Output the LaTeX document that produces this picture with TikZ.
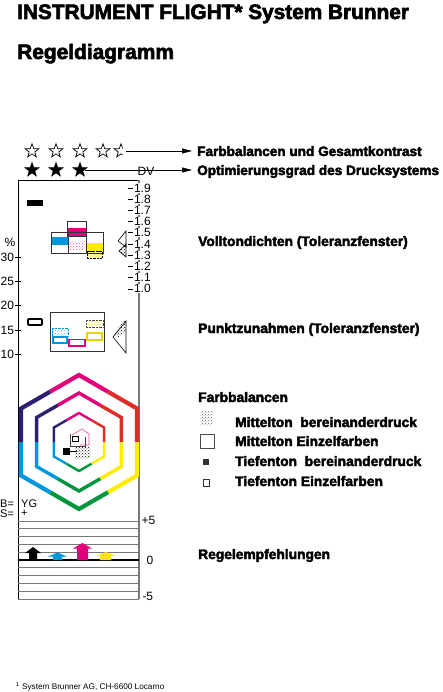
\documentclass[tikz,border=0pt]{standalone}
\usepackage{fontspec}
\setmainfont{Liberation Sans}
\newfontfamily\heavy{Liberation Sans Bold}[FakeBold=3]
\usetikzlibrary{arrows.meta,shapes.geometric,patterns,calc}
\definecolor{bmagenta}{RGB}{226,0,122}
\definecolor{bcyan}{RGB}{0,150,220}
\definecolor{byellow}{RGB}{255,236,0}
\definecolor{bred}{RGB}{222,45,38}
\definecolor{bgreen}{RGB}{0,150,64}
\definecolor{bviolet}{RGB}{48,30,112}
\definecolor{rastergray}{RGB}{120,120,120}

\begin{document}
\begin{tikzpicture}[x=1pt,y=-1pt,
    stern/.style={star,star points=5,star point ratio=2.5,minimum size=14.5pt,inner sep=0pt,line width=0.7pt},
    head/.style={font=\heavy\fontsize{13.6}{15}\selectfont,anchor=west,inner sep=0pt,text height=10pt,text depth=0pt},
    legende/.style={font=\heavy\fontsize{13.8}{15}\selectfont,anchor=base west,inner sep=0pt},
    zahl/.style={font=\fontsize{12}{13}\selectfont,inner sep=0.3pt},
    klein/.style={font=\fontsize{11}{11}\selectfont,inner sep=0pt,anchor=base west},
    pfeil/.style={-{Triangle[length=10pt,width=5pt]},line width=0.6pt,shorten >=5pt}]
    \useasboundingbox (0,0) rectangle (442,692);

    \node[legende,font=\heavy\fontsize{20.8}{22}\selectfont] (titel) at (17,19) {INSTRUMENT FLIGHT* System Brunner};
    \node[legende,font=\heavy\fontsize{20.9}{22}\selectfont] (untertitel) at (17,59) {Regeldiagramm};

    % Sterne
    \foreach \x [count=\i] in {32,56,80,103} \node[stern,draw] (s\i) at (\x,151) {};
    \begin{scope}
        \clip (110,140) rectangle (122.5,162);
        \node[stern,draw] (s5) at (121,151) {};
    \end{scope}
    \foreach \x [count=\i] in {32,56,80} \node[stern,draw,fill] (f\i) at (\x,170) {};
    \node[head] (farb) at (197,151) {Farbbalancen und Gesamtkontrast};
    \node[head] (opt) at (197,170) {Optimierungsgrad des Drucksystems};
    \draw[pfeil] (s5.east) -- (farb.west);
    \draw[pfeil] (f3.east) -- (opt.west);
    \node[zahl] (dv) at (146,171) {DV};

    % Rahmen
    \draw[line width=0.7pt] (18,599) -- (18,180) -- (139,180);
    \draw[rastergray,line width=1.2pt] (139,180) -- (139,599);

    % Skalen
    \foreach \v [count=\i from 0] in {1.9,1.8,1.7,1.6,1.5,1.4,1.3,1.2,1.1,1.0} {
        \draw[line width=0.6pt] (128,188+11.2*\i) -- (133,188+11.2*\i);
        \node[zahl,anchor=west,fill=white] (dv\i) at (133.5,188+11.2*\i) {\v};
    }
    \node[zahl] (prozent) at (10,242) {\%};
    \foreach \p/\y in {30/257,25/281.3,20/305.5,15/330,10/354.3} {
        \draw[line width=0.6pt] (15,\y) -- (21,\y);
        \node[zahl,anchor=east] (p\p) at (14.5,\y) {\p};
    }

    % Volltondichten
    \fill (27,200) rectangle (43,206);
    \fill[bcyan] (51,237) rectangle (68,245);
    \fill[bmagenta] (68,228) rectangle (86,236);
    \fill[pattern=crosshatch dots,pattern color=bmagenta!70] (69,242) rectangle (85,250);
    \fill[byellow] (86,243) rectangle (103,251);
    \draw[densely dotted,fill=byellow!40] (87,251) rectangle (102,258);
    \draw[dashed,line width=0.8pt] (86,251) -- (103,251);
    \draw[line width=0.8pt,black!80] (51,232) rectangle (103,253);
    \draw[line width=0.8pt,black!80] (68,232) -- (68,253) (86,232) -- (86,253);
    \draw[line width=0.8pt,black!80] (67,221) rectangle (86,236);
    \draw[line width=0.6pt] (126,231) -- (118,241) -- (126,247) -- cycle;
    \draw[line width=0.6pt,pattern=crosshatch dots] (126,244) -- (119,251) -- (126,257) -- cycle;

    % Punktzunahmen
    \draw[line width=1.8pt,rounded corners=1pt] (28,319) rectangle (42,325);
    \draw[line width=0.8pt,black!80] (50,312) rectangle (104,351);
    \draw[bcyan,densely dotted,pattern=crosshatch dots,pattern color=bcyan!60] (52,328) rectangle (68,336);
    \draw[bcyan,line width=1.5pt] (53,337) rectangle (67,343);
    \draw[bmagenta,line width=1.5pt] (69,339.5) rectangle (85,346);
    \draw[black!70,densely dotted,pattern=crosshatch dots,pattern color=byellow] (86,320) rectangle (103,327);
    \draw[byellow!90!black,line width=1.5pt] (87,333) rectangle (102,340);
    \fill[pattern=crosshatch dots] (125,320) -- (114,333) -- (118,339) -- (126,329) -- cycle;
    \draw[line width=0.6pt] (126,321) -- (113,337) -- (126,353) -- cycle;

    % Farbbalancen
    \begin{scope}[shift={(79,442)},yscale=-1,line join=miter]
        \foreach \R/\w in {67/4.2pt,49/3.4pt,29/2.4pt}
            \foreach \a/\c in {90/bmagenta,30/bred,-30/byellow,-90/bgreen,-150/bcyan,150/bviolet}
                \draw[\c,line width=\w] ($(\a+60:\R)!0.5!(\a:\R)$) -- (\a:\R) -- ($(\a:\R)!0.5!(\a-60:\R)$);
    \end{scope}
    \draw[bmagenta!70,line width=0.6pt] (72,435) -- (82,429) -- (89,434) -- (89,445) -- (80,445);
    \draw[black!75,line width=0.7pt] (70,434) -- (70,446) -- (85,446) -- (85,437);
    \draw[line width=0.8pt] (72,436) rectangle (78,441);
    \fill[pattern=crosshatch dots] (75,447) rectangle (90,458);
    \fill (63,448) rectangle (70,455);
    \draw[line width=0.7pt] (70,451) -- (77,451);

    \node[klein] (bl) at (0,507) {B=};
    \node[klein] (sl) at (0,517) {S=};
    \node[klein] (yg) at (21,507) {YG};
    \node[klein] (plus) at (21,516.5) {+};

    % Regelempfehlungen
    \foreach \i in {0,...,10}
        \draw[rastergray,line width=0.9pt] (18,521+7.8*\i) -- (139,521+7.8*\i);
    \draw[line width=1.5pt] (18,560) -- (139,560);
    \node[zahl,anchor=west] (r5) at (141,520) {+5};
    \node[zahl,anchor=west] (r0) at (146,560) {0};
    \node[zahl,anchor=west] (rm5) at (142,596) {-5};
    \fill (29,560) -- (29,553) -- (25,553) -- (33,547) -- (41,553) -- (37,553) -- (37,560) -- cycle;
    \fill[bcyan] (53,560) -- (53,556.5) -- (48,556.5) -- (57.5,552.5) -- (67,556.5) -- (62,556.5) -- (62,560) -- cycle;
    \fill[bmagenta] (77,560) -- (77,548.5) -- (73,548.5) -- (82.5,543) -- (92,548.5) -- (88,548.5) -- (88,560) -- cycle;
    \fill[byellow] (100,560) -- (100,555.5) -- (97,555.5) -- (106,552) -- (115,555.5) -- (111,555.5) -- (111,560) -- cycle;
    \fill[pattern=crosshatch dots,pattern color=orange!60] (100,560) -- (100,555.5) -- (97,555.5) -- (106,552) -- (115,555.5) -- (111,555.5) -- (111,560) -- cycle;

    % Legende
    \node[legende] (voll) at (198,246) {Volltondichten (Toleranzfenster)};
    \node[legende] (punkt) at (198,333) {Punktzunahmen (Toleranzfenster)};
    \node[legende] (balance) at (198,402) {Farbbalancen};
    \fill[pattern=crosshatch dots,pattern color=black!60] (200,411) rectangle (212,425);
    \draw[black!70,line width=0.6pt] (200,434) rectangle (214,448);
    \fill[black!80] (203,459) rectangle (209,465);
    \draw[black!80,line width=0.7pt] (203,479) rectangle (209,486);
    \node[legende] (mittel1) at (235,427) {Mittelton\ \ bereinanderdruck};
    \node[legende] (mittel2) at (235,446) {Mittelton Einzelfarben};
    \node[legende] (tief1) at (235,466) {Tiefenton\ \ bereinanderdruck};
    \node[legende] (tief2) at (235,486) {Tiefenton Einzelfarben};
    \node[legende] (regel) at (198,559) {Regelempfehlungen};

    \node[anchor=base west,inner sep=0pt,font=\fontsize{8.2}{9}\selectfont] (fuss) at (16,689) {\textsuperscript{1} System Brunner AG, CH-6600 Locarno};
\end{tikzpicture}
\end{document}
